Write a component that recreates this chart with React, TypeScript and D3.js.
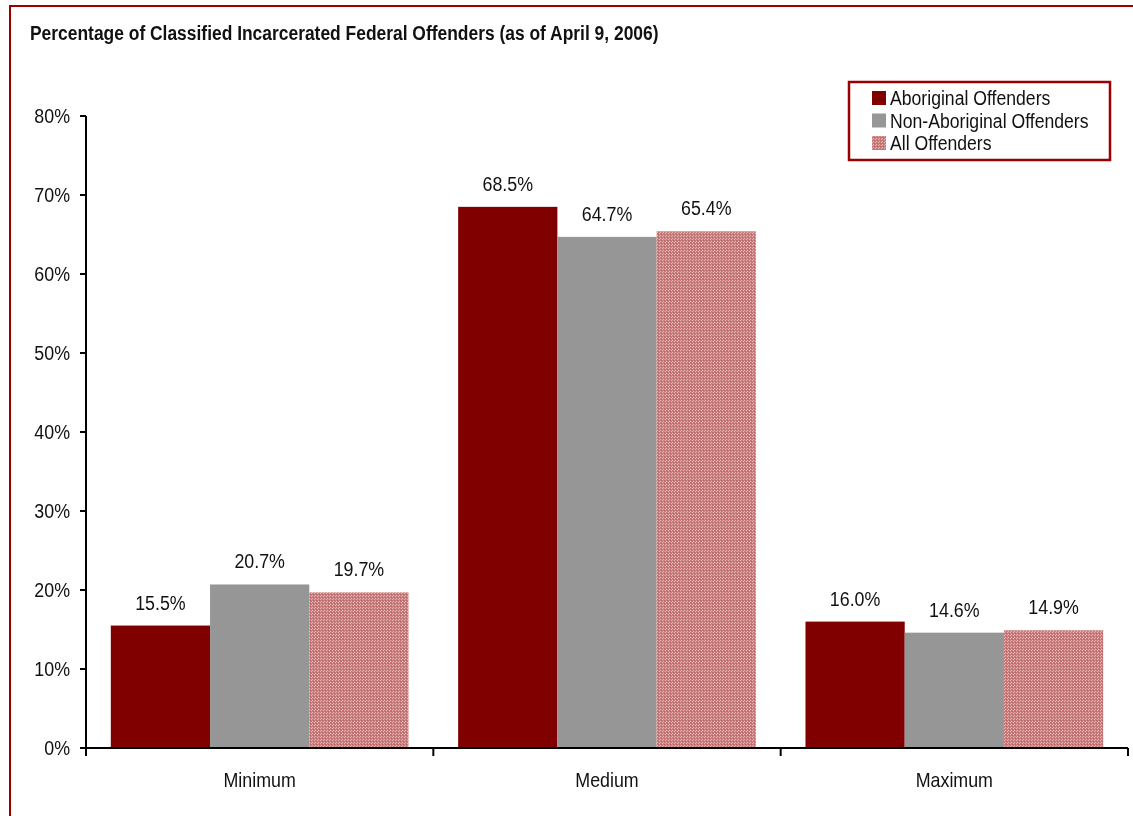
import React, { useEffect, useRef } from "react";
import * as d3 from "d3";

// chart data
const categories = ["Minimum", "Medium", "Maximum"];
const seriesNames = ["Aboriginal Offenders", "Non-Aboriginal Offenders", "All Offenders"];
const aboriginal = [15.5, 68.5, 16.0];
const nonAboriginal = [20.7, 64.7, 14.6];
const allOffenders = [19.7, 65.4, 14.9];
const yTicks = [0, 10, 20, 30, 40, 50, 60, 70, 80];

const FONT = "'Liberation Sans', Arial, sans-serif";
const RED = "#990000";
const NARROW = 0.85; // fake "Arial Narrow"

const App = () => {
    const container = useRef<HTMLDivElement>(null);

    useEffect(() => {
        const el = container.current;
        if (!el) return;
        el.innerHTML = "";

        const W = 1133, H = 816;
        const margin = { top: 116, left: 86 };
        const width = 1128 - margin.left;
        const height = 748 - margin.top;

        const svg = d3.select(el)
            .append("svg")
            .attr("width", W)
            .attr("height", H)
            .style("display", "block")
            .style("font-family", FONT);

        // narrow text helper
        const label = (parent: any, x: number, y: number, txt: string, size: number,
            anchor = "start", weight = "normal", sx = NARROW) => {
            parent.append("g")
                .attr("transform", `translate(${x},${y}) scale(${sx},1)`)
                .append("text")
                .attr("text-anchor", anchor)
                .attr("font-size", size)
                .attr("font-weight", weight)
                .attr("fill", "#111")
                .text(txt);
        };

        const defs = svg.append("defs");
        const pat = defs.append("pattern")
            .attr("id", "hatch")
            .attr("patternUnits", "userSpaceOnUse")
            .attr("width", 3)
            .attr("height", 3);
        pat.append("rect").attr("width", 3).attr("height", 3).attr("fill", "#c87c7c");
        pat.append("rect").attr("x", 0).attr("y", 0).attr("width", 1).attr("height", 1).attr("fill", "#e4b4b4");
        pat.append("rect").attr("x", 1).attr("y", 2).attr("width", 1).attr("height", 1).attr("fill", "#e4b4b4");
        pat.append("rect").attr("x", 2).attr("y", 1).attr("width", 1).attr("height", 1).attr("fill", "#b86868");

        // outer frame
        svg.append("rect")
            .attr("x", 10).attr("y", 6)
            .attr("width", W + 20).attr("height", H + 20)
            .attr("fill", "none")
            .attr("stroke", RED)
            .attr("stroke-width", 2);

        label(svg, 30, 40, "Percentage of Classified Incarcerated Federal Offenders (as of April 9, 2006)",
            20.5, "start", "bold", 0.85);

        const g = svg.append("g")
            .attr("transform", `translate(${margin.left},${margin.top})`);

        const x0 = d3.scaleBand().domain(categories).range([0, width]);
        const x1 = d3.scaleBand().domain(seriesNames)
            .range([0, x0.bandwidth()]).paddingOuter(0.25).paddingInner(0);
        const y = d3.scaleLinear().domain([0, 80]).range([height, 0]);

        const fills = ["#800000", "#969696", "url(#hatch)"];
        const series = [aboriginal, nonAboriginal, allOffenders];

        const rows = categories.flatMap((c, ci) =>
            seriesNames.map((s, si) => ({ c, s, si, v: series[si][ci] })));

        g.selectAll("rect.bar")
            .data(rows)
            .enter()
            .append("rect")
            .attr("class", "bar")
            .attr("x", (d) => x0(d.c)! + x1(d.s)!)
            .attr("y", (d) => y(d.v))
            .attr("width", x1.bandwidth())
            .attr("height", (d) => height - y(d.v))
            .attr("fill", (d) => fills[d.si]);

        rows.forEach((d) => {
            label(g, x0(d.c)! + x1(d.s)! + x1.bandwidth() / 2, y(d.v) - 16,
                d.v.toFixed(1) + "%", 21, "middle");
        });

        // y axis
        g.append("path")
            .attr("d", `M0,0V${height}`)
            .attr("stroke", "#000").attr("stroke-width", 2);
        yTicks.forEach((t) => {
            g.append("line")
                .attr("x1", -6).attr("x2", 0)
                .attr("y1", y(t)).attr("y2", y(t))
                .attr("stroke", "#000").attr("stroke-width", 2);
            label(g, -16, y(t) + 7, t + "%", 21, "end");
        });

        // x axis
        const xAxis = g.append("g").attr("transform", `translate(0,${height})`);
        xAxis.append("line")
            .attr("x1", -6).attr("x2", width)
            .attr("stroke", "#000").attr("stroke-width", 2);
        const bounds = [0, ...categories.map((c) => x0(c)! + x0.bandwidth())];
        xAxis.selectAll("line.tk")
            .data(bounds)
            .enter()
            .append("line")
            .attr("class", "tk")
            .attr("x1", (d) => d).attr("x2", (d) => d)
            .attr("y1", 0).attr("y2", 8)
            .attr("stroke", "#000").attr("stroke-width", 2);
        categories.forEach((c) => {
            label(xAxis, x0(c)! + x0.bandwidth() / 2, 39, c, 21, "middle");
        });

        // legend
        const lg = svg.append("g").attr("transform", "translate(849,82)");
        lg.append("rect")
            .attr("width", 261).attr("height", 78)
            .attr("fill", "#fff")
            .attr("stroke", RED)
            .attr("stroke-width", 2.5);
        seriesNames.forEach((s, i) => {
            const row = lg.append("g").attr("transform", `translate(23,${9 + i * 22.5})`);
            row.append("rect").attr("width", 14).attr("height", 14).attr("fill", fills[i]);
            label(row, 18, 14, s, 21, "start", "normal", 0.84);
        });
    }, []);

    return <div ref={container} style={{ position: "fixed", left: 0, top: 0 }}></div>;
};

export default App;
